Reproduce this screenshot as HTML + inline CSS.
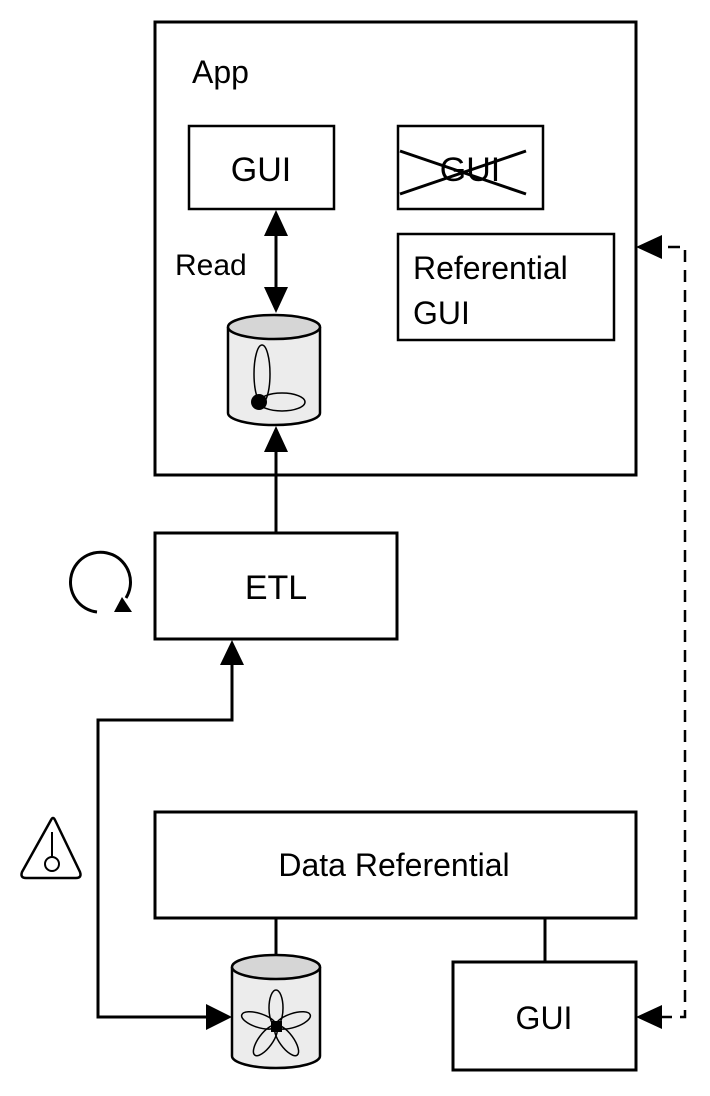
<!DOCTYPE html>
<html><head><style>body{margin:0;background:#fff}svg{display:block}text{font-family:"Liberation Sans",sans-serif;fill:#000}</style></head>
<body>
<svg width="710" height="1096" viewBox="0 0 710 1096" xmlns="http://www.w3.org/2000/svg">
<g fill="none" stroke="#000" stroke-width="3">
<rect x="155" y="22" width="481" height="453"/>
<rect x="189" y="126" width="145" height="83" stroke-width="2.5"/>
<rect x="398" y="126" width="145" height="83" stroke-width="2.5"/>
<rect x="398" y="234" width="216" height="106" stroke-width="2.5"/>
<rect x="155" y="533" width="242" height="106"/>
<rect x="155" y="812" width="481" height="106"/>
<rect x="453" y="962" width="183" height="108"/>
<line x1="276" y1="230" x2="276" y2="292"/>
<line x1="276" y1="533" x2="276" y2="450"/>
<polyline points="232,662 232,720 98,720 98,1017 210,1017"/>
<line x1="276" y1="918" x2="276" y2="954"/>
<line x1="545" y1="918" x2="545" y2="962"/>
<polyline points="660,1017 685,1017 685,247 660,247" stroke-width="2.5" stroke-dasharray="12,8"/>
<line x1="400" y1="151" x2="526" y2="194"/>
<line x1="400" y1="194" x2="526" y2="151"/>
<path d="M97,612 A30,30 0 1 1 126,598"/>
<path d="M51,820 Q53,816 55,820 L80,872 Q82,878 76,878 L26,878 Q20,878 22,872 Z" stroke-width="2.5"/>
<line x1="52" y1="832" x2="52" y2="857" stroke-width="2"/>
<circle cx="52" cy="864" r="7" stroke-width="2"/>
</g>
<g fill="#000">
<polygon points="276,210 264,236 288,236"/>
<polygon points="276,313 264,287 288,287"/>
<polygon points="276,426 264,452 288,452"/>
<polygon points="232,640 220,665 244,665"/>
<polygon points="232,1017 206,1004 206,1030"/>
<polygon points="636,247 662,235 662,259"/>
<polygon points="636,1017 662,1005 662,1029"/>
<polygon points="122,597 114,612 132,612"/>
</g>
<g stroke="#000" stroke-width="2.5">
<path d="M228,327 L228,413 A46,12 0 0 0 320,413 L320,327" fill="#ececec"/>
<ellipse cx="274" cy="327" rx="46" ry="12" fill="#d6d6d6"/>
</g>
<g fill="none" stroke="#000" stroke-width="1.5">
<ellipse cx="262" cy="374" rx="8" ry="29"/>
<ellipse cx="282" cy="402" rx="23" ry="9"/>
</g>
<circle cx="259" cy="402" r="8" fill="#000"/>
<g stroke="#000" stroke-width="2.5">
<path d="M232,967 L232,1056 A44,12 0 0 0 320,1056 L320,967" fill="#ececec"/>
<ellipse cx="276" cy="967" rx="44" ry="12" fill="#d6d6d6"/>
</g>
<g fill="none" stroke="#000" stroke-width="1.5" transform="translate(276,1026)">
<ellipse cx="0" cy="-18" rx="7" ry="18"/>
<ellipse cx="0" cy="-18" rx="7" ry="18" transform="rotate(72)"/>
<ellipse cx="0" cy="-18" rx="7" ry="18" transform="rotate(144)"/>
<ellipse cx="0" cy="-18" rx="7" ry="18" transform="rotate(216)"/>
<ellipse cx="0" cy="-18" rx="7" ry="18" transform="rotate(288)"/>
</g>
<rect x="271" y="1021" width="11" height="11" fill="#000"/>
<text x="192" y="83" font-size="32">App</text>
<text x="261" y="181" font-size="34" text-anchor="middle">GUI</text>
<text x="470" y="181" font-size="34" text-anchor="middle">GUI</text>
<text x="175" y="275" font-size="30">Read</text>
<text x="413" y="279" font-size="32">Referential</text>
<text x="413" y="324" font-size="32">GUI</text>
<text x="276" y="599" font-size="34" text-anchor="middle">ETL</text>
<text x="394" y="876" font-size="32" text-anchor="middle">Data Referential</text>
<text x="544" y="1029" font-size="32" text-anchor="middle">GUI</text>
</svg>
</body></html>
